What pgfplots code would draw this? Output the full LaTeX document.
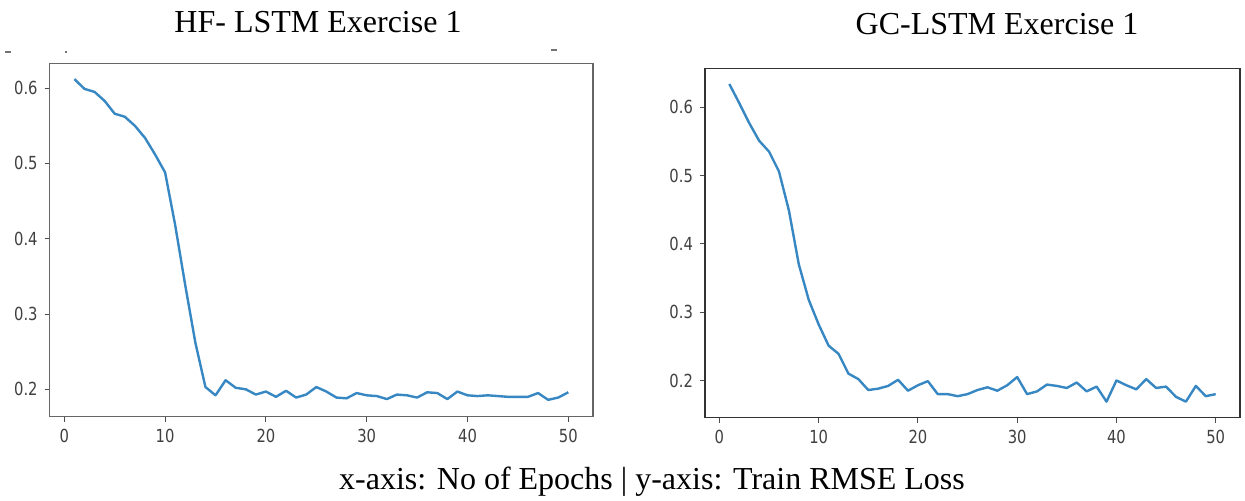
\documentclass[border=0pt]{standalone}
\usepackage{fontspec}
\setmainfont{Liberation Serif}
\newfontfamily\tickfont[FakeStretch=0.82]{DejaVu Sans}
\usepackage{pgfplots}
\pgfplotsset{compat=1.18}
\definecolor{mplblue}{RGB}{55,135,195}

\pgfplotsset{
  lossplot/.style={
    scale only axis,
    anchor=south west,
    xmin=-1.45, xmax=52.45,
    xtick={0,10,20,30,40,50},
    ytick={0.2,0.3,0.4,0.5,0.6},
    yticklabel style={/pgf/number format/.cd,fixed,fixed zerofill,precision=1},
    /pgf/number format/assume math mode=true,
    tick align=outside,
    major tick length=2.5pt,
    xtick pos=bottom, ytick pos=left,
    tick style={black!70, line width=0.5pt},
    tick label style={font=\tickfont\fontsize{9}{10}\selectfont, text=black!75},
    axis line style={line width=0.6pt},
  },
  lossline/.style={mplblue, line width=1.2pt, no marks, line join=round},
}

\pgfplotstableread{
ep loss
1 0.612
2 0.599
3 0.595
4 0.583
5 0.566
6 0.562
7 0.550
8 0.534
9 0.512
10 0.488
11 0.418
12 0.338
13 0.262
14 0.203
15 0.192
16 0.212
17 0.202
18 0.200
19 0.193
20 0.197
21 0.190
22 0.198
23 0.189
24 0.193
25 0.203
26 0.197
27 0.189
28 0.188
29 0.195
30 0.192
31 0.191
32 0.187
33 0.193
34 0.192
35 0.189
36 0.196
37 0.195
38 0.187
39 0.197
40 0.192
41 0.191
42 0.192
43 0.191
44 0.190
45 0.190
46 0.190
47 0.195
48 0.186
49 0.189
50 0.196
}\hflstm

\pgfplotstableread{
ep loss
1 0.634
2 0.606
3 0.577
4 0.551
5 0.535
6 0.506
7 0.449
8 0.370
9 0.318
10 0.282
11 0.251
12 0.239
13 0.210
14 0.202
15 0.186
16 0.188
17 0.192
18 0.201
19 0.185
20 0.193
21 0.199
22 0.180
23 0.180
24 0.177
25 0.180
26 0.186
27 0.190
28 0.185
29 0.193
30 0.205
31 0.180
32 0.184
33 0.194
34 0.192
35 0.189
36 0.197
37 0.184
38 0.191
39 0.169
40 0.200
41 0.193
42 0.187
43 0.202
44 0.189
45 0.191
46 0.176
47 0.169
48 0.192
49 0.177
50 0.180
}\gclstm

\begin{document}
\begin{tikzpicture}
\path[use as bounding box] (0,0) rectangle (622.5pt,250.5pt);

\begin{axis}[lossplot,
  at={(24.85pt,42.15pt)}, width=271.65pt, height=176.7pt,
  ymin=0.1636, ymax=0.633,
  axis line style={black!60}]
  \addplot[lossline] table[x=ep, y=loss] {\hflstm};
\end{axis}

\begin{axis}[lossplot,
  at={(352.5pt,41.65pt)}, width=267.5pt, height=174.7pt,
  ymin=0.1455, ymax=0.657,
  axis line style={black!80}]
  \addplot[lossline] table[x=ep, y=loss] {\gclstm};
\end{axis}

% titles and caption
\node[anchor=base, font=\fontsize{16}{19}\selectfont] at (159pt,234pt) {HF- LSTM Exercise 1};
\node[anchor=base, font=\fontsize{16}{19}\selectfont] at (498.5pt,233pt) {GC-LSTM Exercise 1};
\node[anchor=base, font=\fontsize{16}{19}\selectfont] at (326pt,5.5pt) {x-axis: No of Epochs | y-axis: Train RMSE Loss};

% stray marks above the left panel
\draw[black!55, line width=0.8pt] (2.5pt,224.5pt) -- (5.5pt,224.5pt);
\draw[black!55, line width=0.8pt] (32.7pt,224.5pt) -- (33.5pt,224.5pt);
\draw[black!55, line width=0.8pt] (275.5pt,225.5pt) -- (278.5pt,225.5pt);
\end{tikzpicture}
\end{document}
